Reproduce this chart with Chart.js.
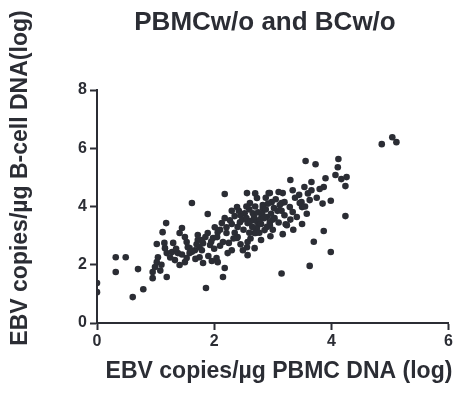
<!DOCTYPE html>
<html>
<head>
<meta charset="utf-8">
<script src="https://cdn.jsdelivr.net/npm/chart.js@4"></script>
<style>
  html, body { margin: 0; padding: 0; background: #fff; }
  #wrap { width: 455px; height: 394px; }
</style>
</head>
<body>
<div id="wrap"><canvas id="scatterChart"></canvas></div>
<script>
// Chart text
const chartTitle = "PBMCw/o and BCw/o";
const xTitle = "EBV copies/\u00b5g PBMC DNA (log)";
const yTitle = "EBV copies/\u00b5g B-cell DNA(log)";

// Axis ticks
const xTicks = [0, 2, 4, 6];
const yTicks = [0, 2, 4, 6, 8];

// EBV copies/ug PBMC DNA (log)
const pbmcLog = [
  0, 0, 0.32, 0.49, 0.32, 0.70, 0.79, 0.61,
  0.95, 0.95, 0.99, 1.02, 1.04, 1.02, 1.16, 1.19, 1.18, 1.12, 1.19, 1.28,
  1.33, 1.38, 1.41, 1.50, 1.53, 1.58, 1.58, 1.67, 1.75, 1.75, 1.81, 1.72,
  1.81, 1.45, 1.41, 1.50, 1.53, 1.55, 1.62, 1.86,
  1.89, 2.18, 2.39, 1.72, 1.79, 1.89, 1.93, 1.98, 2.01, 2.06, 2.13, 2.15,
  2.21, 2.21, 2.27, 2.35, 2.30, 2.23, 2.04, 1.79, 2.39, 2.44, 2.49, 2.57,
  2.57, 2.69, 2.69, 2.86, 2.57, 2.52, 2.66, 2.61, 2.56, 2.73, 2.93, 2.83,
  2.90, 2.74, 2.95,
  2.18, 2.15, 2.06, 1.96, 2.56, 2.40,
  2.96, 3.15, 3.17, 2.71, 3.22, 3.41, 3.99, 3.87, 3.70, 3.99, 3.63, 4.24,
  4.86, 5.04, 5.11, 3.56, 3.73, 4.12, 4.11, 4.07, 4.26, 4.17, 4.24, 3.90,
  3.87, 3.66, 3.66, 3.30, 3.54, 3.49, 3.63, 3.34, 3.17, 3.20, 2.95, 2.98,
  2.83, 3.20, 3.24, 2.95,
  3.46, 3.50, 3.34, 3.29, 3.15, 3.03, 2.69, 2.81, 2.73,
  2.30, 2.45, 2.48, 2.55, 2.60, 2.62, 2.65, 2.68, 2.70, 2.75, 2.78, 2.80,
  2.82, 2.85, 2.88, 2.90, 2.92, 2.97, 3.00, 3.02, 3.05, 3.08, 3.10, 3.12,
  2.40, 2.50, 2.35, 2.60, 2.77, 2.30, 2.42, 2.55, 2.18, 2.10, 1.95, 2.05,
  2.25, 2.33, 2.45, 1.85, 1.70, 1.62, 1.68, 1.90, 2.00, 2.10, 1.45, 1.35,
  1.25, 1.10, 1.08, 1.15, 1.30, 2.62, 2.80, 3.00, 3.30, 3.38, 3.45, 3.55,
  3.60, 3.75, 3.80, 3.85, 3.50, 3.35, 3.58, 2.88, 2.70, 3.15, 3.10
];

// EBV copies/ug B-cell DNA (log), same order
const bcellLog = [
  1.37, 1.06, 2.26, 2.26, 1.75, 1.85, 1.16, 0.89,
  1.54, 1.75, 1.92, 2.09, 2.26, 2.71, 2.57, 2.40, 3.43, 3.12, 1.58, 2.44,
  2.16, 2.40, 1.99, 2.09, 2.23, 2.40, 2.57, 2.50, 2.60, 2.26, 2.06, 2.85,
  2.74, 3.26, 3.09, 2.95, 2.78, 2.60, 4.12, 1.20,
  3.74, 4.43, 3.98, 3.02, 2.85, 3.09, 2.68, 2.92, 3.29, 3.12, 3.43, 2.78,
  3.29, 3.09, 3.53, 3.67, 2.50, 2.40, 2.23, 2.50, 2.92, 3.46, 2.50, 2.33,
  2.78, 2.57, 3.09, 3.19, 3.43, 3.77, 3.77, 4.12, 4.46, 4.29, 4.46, 3.95,
  3.64, 3.46, 3.36,
  1.89, 1.58, 2.09, 2.13, 2.60, 2.95,
  2.98, 1.70, 3.05, 3.09, 3.39, 3.64, 4.20, 3.16, 2.79, 2.44, 1.96, 3.67,
  6.14, 6.38, 6.21, 5.56, 5.45, 5.63, 5.35, 5.08, 5.01, 4.94, 4.70, 4.97,
  4.67, 4.84, 4.56, 4.91, 4.67, 4.15, 4.22, 4.56, 4.46, 4.15, 4.46, 4.15,
  4.05, 3.70, 3.36, 3.46,
  4.12, 3.98, 3.81, 3.98, 4.12, 3.60, 3.53, 3.64, 3.26,
  3.85, 3.70, 3.55, 3.60, 3.90, 3.50, 3.30, 3.65, 4.00, 3.80, 3.55, 3.40,
  3.75, 3.60, 3.90, 3.30, 4.10, 3.75, 3.55, 3.95, 4.25, 3.85, 3.45, 4.05,
  3.30, 3.20, 3.10, 3.10, 3.10, 3.40, 3.85, 4.00, 3.60, 3.20, 2.80, 2.95,
  2.75, 2.90, 2.70, 2.95, 2.70, 2.45, 2.20, 2.30, 2.55, 2.65, 2.35, 2.55,
  2.25, 2.00, 1.80, 2.75, 2.75, 2.90, 2.85, 3.20, 3.55, 4.30, 4.40, 4.00,
  4.45, 4.30, 4.60, 4.10, 3.40, 3.20, 3.75, 4.30, 4.45, 3.85, 4.50
];

const ink = "#2b2d34";
const points = pbmcLog.map((x, i) => ({ x: x, y: bcellLog[i] }));

// titles drawn by hand so they sit where GraphPad put them
const textPlugin = {
  id: "graphText",
  afterDraw(chart) {
    const c = chart.ctx;
    c.save();
    c.fillStyle = ink;
    c.textAlign = "center";
    c.textBaseline = "alphabetic";
    c.font = "bold 26px 'Liberation Sans', Arial, sans-serif";
    c.fillText(chartTitle, 265, 30);
    c.font = "bold 23px 'Liberation Sans', Arial, sans-serif";
    c.fillText(xTitle, 279, 378);
    c.translate(27, 178);
    c.rotate(-Math.PI / 2);
    c.fillText(yTitle, 0, 0);
    c.restore();
  }
};

const ctx = document.getElementById("scatterChart");
new Chart(ctx, {
  type: "scatter",
  data: {
    datasets: [
      {
        data: points,
        backgroundColor: ink,
        borderWidth: 0,
        pointRadius: 3.3,
        pointHoverRadius: 3.3,
      },
    ],
  },
  options: {
    responsive: true,
    maintainAspectRatio: false,
    animation: false,
    layout: { padding: { left: 0, top: 90, right: 6, bottom: 0 } },
    plugins: {
      legend: { display: false },
      tooltip: { enabled: false },
    },
    scales: {
      x: {
        type: "linear",
        min: 0,
        max: 6,
        afterBuildTicks: (s) => { s.ticks = xTicks.map((v) => ({ value: v })); },
        afterFit: (s) => { s.height = 71; },
        grid: { drawOnChartArea: false, drawTicks: true, tickLength: 7, tickWidth: 2, tickColor: ink },
        border: { display: true, color: ink, width: 2 },
        ticks: { color: ink, padding: 2, font: { family: "'Liberation Sans', Arial", size: 16, weight: "bold" } },
      },
      y: {
        type: "linear",
        min: 0,
        max: 8,
        afterBuildTicks: (s) => { s.ticks = yTicks.map((v) => ({ value: v })); },
        afterFit: (s) => { s.width = 97; },
        grid: { drawOnChartArea: false, drawTicks: true, tickLength: 7, tickWidth: 2, tickColor: ink },
        border: { display: true, color: ink, width: 2 },
        ticks: { color: ink, padding: 3, font: { family: "'Liberation Sans', Arial", size: 16, weight: "bold" } },
      },
    },
  },
  plugins: [textPlugin],
});
</script>
</body>
</html>
